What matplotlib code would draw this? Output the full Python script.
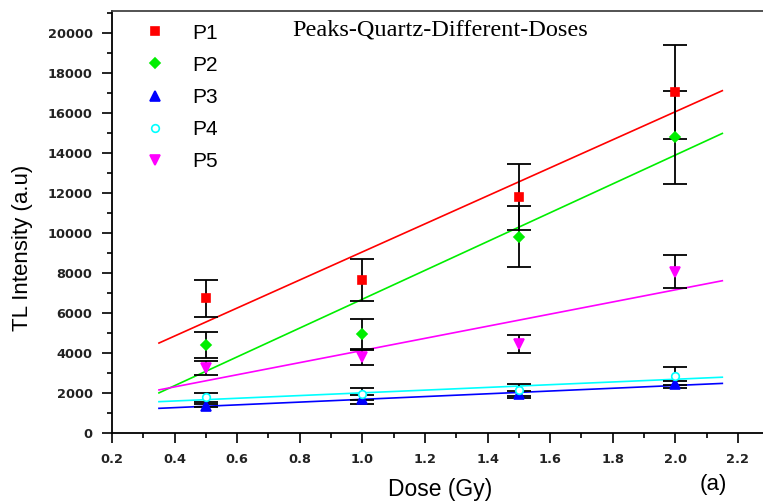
import numpy as np
import matplotlib
matplotlib.use("Agg")
import matplotlib.pyplot as plt
from matplotlib.ticker import MultipleLocator, FormatStrFormatter
from matplotlib.lines import Line2D

# dose points (Gy) and TL peak intensities with their errors
doses = [0.5, 1.0, 1.5, 2.0]

p1 = [6750, 7665, 11800, 17050]
p1_err = [930, 1050, 1650, 2350]
p2 = [4415, 4965, 9830, 14800]
p2_err = [660, 750, 1530, 2330]
p3 = [1380, 1700, 1950, 2450]
p3_err = [80, 230, 180, 180]
p4 = [1800, 1950, 2150, 2865]
p4_err = [230, 300, 300, 470]
p5 = [3250, 3800, 4450, 8085]
p5_err = [350, 370, 460, 815]

names = ["P1", "P2", "P3", "P4", "P5"]
colores = ["#ff0000", "#00ee00", "#0000ff", "#00ffff", "#ff00ff"]
marcas = ["s", "D", "^", "o", "v"]
tamanos = [6, 5, 6.5, 5.5, 6.5]

series = [p1, p2, p3, p4, p5]
errores = [p1_err, p2_err, p3_err, p4_err, p5_err]

# range of the linear fits
fit_x = [0.35, 2.15]

fig = plt.figure(figsize=(7.63, 5.04), dpi=100)
ax = fig.add_axes([0.1468, 0.1403, 1 - 0.1468, 0.978 - 0.1403])

x = np.array(doses)
xs = np.linspace(fit_x[0], fit_x[1], 50)
for y, color in zip(series, colores):
    a, b = np.polyfit(x, np.array(y), 1)
    ax.plot(xs, a * xs + b, color=color, lw=1.2, zorder=2)

handles = []
for y, e, color, m, ms, name in zip(series, errores, colores, marcas, tamanos, names):
    face = "white" if m == "o" else color
    ax.errorbar(doses, y, yerr=e, fmt="none", ecolor="black", elinewidth=1.3,
                capsize=8.5, capthick=1.3, zorder=3)
    ax.plot(doses, y, ls="none", marker=m, ms=ms, mfc=face, mec=color,
            mew=1.2, zorder=4)
    handles.append(Line2D([], [], ls="none", marker=m, ms=ms, mfc=face,
                          mec=color, mew=1.2, label=name))

ax.legend(handles=handles, loc="upper left", bbox_to_anchor=(0.031, 1.0),
          frameon=False, prop={"family": "Liberation Sans", "size": 15},
          labelspacing=0.63, handletextpad=1.28, borderaxespad=0.4,
          borderpad=0.2, handlelength=1.0)

ax.set_xlim(0.2, 2.28)
ax.set_ylim(0, 21100)

ax.xaxis.set_major_locator(MultipleLocator(0.2))
ax.xaxis.set_minor_locator(MultipleLocator(0.1))
ax.xaxis.set_major_formatter(FormatStrFormatter("%.1f"))
ax.yaxis.set_major_locator(MultipleLocator(2000))
ax.yaxis.set_minor_locator(MultipleLocator(1000))
ax.yaxis.set_major_formatter(FormatStrFormatter("%d"))

ax.tick_params(which="major", length=7, width=1.2, direction="out", pad=7)
ax.tick_params(which="minor", length=3.5, width=1.2, direction="out")
ax.tick_params(top=False, right=False, which="both")
for lab in ax.get_xticklabels() + ax.get_yticklabels():
    lab.set_fontfamily("DejaVu Sans")
    lab.set_fontweight("bold")
    lab.set_fontsize(9.3)
    lab.set_color("#222222")

ax.spines["right"].set_visible(False)
ax.spines["top"].set_color("#444444")
for s in ["left", "bottom", "top"]:
    ax.spines[s].set_linewidth(1.3)

ax.set_ylabel("TL Intensity (a.u)", fontsize=16, family="Liberation Sans")
ax.yaxis.set_label_coords(-0.122, 0.44)
ax.set_xlabel("Dose (Gy)", fontsize=16.5, family="Liberation Sans")
ax.xaxis.set_label_coords(0.504, -0.106)

ax.text(0.504, 0.955, "Peaks-Quartz-Different-Doses", transform=ax.transAxes,
        ha="center", va="center", fontsize=17.5, family="Liberation Serif")
ax.text(0.923, -0.122, "(a)", transform=ax.transAxes, ha="center",
        va="center", fontsize=16, family="Liberation Sans")

fig.savefig("out.png", dpi=100)
